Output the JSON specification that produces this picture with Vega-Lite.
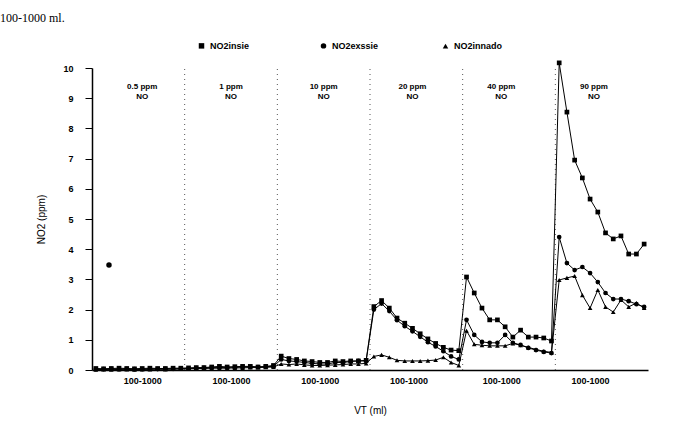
{
  "$schema": "https://vega.github.io/schema/vega-lite/v6.json",
  "width": 556,
  "height": 302,
  "autosize": "none",
  "padding": {"left": 92, "top": 68, "right": 37, "bottom": 62},
  "background": "white",
  "title": {"text": "100-1000 ml.", "anchor": "start", "frame": "group", "dx": -92, "offset": 16, "font": "Liberation Serif", "fontSize": 12, "fontWeight": "normal", "color": "black"},
  "config": {
    "view": {"stroke": null},
    "axis": {"domainColor": "black", "tickColor": "black", "labelColor": "black", "titleColor": "black", "grid": false, "labelFont": "Liberation Sans", "titleFont": "Liberation Sans", "titleFontWeight": "normal", "titleFontSize": 10}
  },
  "datasets": {
    "series": [
      {"x": 0.5, "NO2insie": 0.05, "NO2exssie": 0.03, "NO2innado": 0.01},
      {"x": 1.5, "NO2insie": 0.04, "NO2exssie": 0.03, "NO2innado": 0.02},
      {"x": 2.5, "NO2insie": 0.05, "NO2exssie": 0.04, "NO2innado": 0.01},
      {"x": 3.5, "NO2insie": 0.06, "NO2exssie": 0.03, "NO2innado": 0.02},
      {"x": 4.5, "NO2insie": 0.05, "NO2exssie": 0.04, "NO2innado": 0.02},
      {"x": 5.5, "NO2insie": 0.04, "NO2exssie": 0.03, "NO2innado": 0.01},
      {"x": 6.5, "NO2insie": 0.05, "NO2exssie": 0.03, "NO2innado": 0.02},
      {"x": 7.5, "NO2insie": 0.06, "NO2exssie": 0.04, "NO2innado": 0.02},
      {"x": 8.5, "NO2insie": 0.05, "NO2exssie": 0.03, "NO2innado": 0.03},
      {"x": 9.5, "NO2insie": 0.05, "NO2exssie": 0.04, "NO2innado": 0.02},
      {"x": 10.5, "NO2insie": 0.06, "NO2exssie": 0.04, "NO2innado": 0.03},
      {"x": 11.5, "NO2insie": 0.06, "NO2exssie": 0.05, "NO2innado": 0.03},
      {"x": 12.5, "NO2insie": 0.07, "NO2exssie": 0.05, "NO2innado": 0.04},
      {"x": 13.5, "NO2insie": 0.08, "NO2exssie": 0.06, "NO2innado": 0.05},
      {"x": 14.5, "NO2insie": 0.08, "NO2exssie": 0.07, "NO2innado": 0.05},
      {"x": 15.5, "NO2insie": 0.1, "NO2exssie": 0.08, "NO2innado": 0.06},
      {"x": 16.5, "NO2insie": 0.12, "NO2exssie": 0.08, "NO2innado": 0.06},
      {"x": 17.5, "NO2insie": 0.1, "NO2exssie": 0.09, "NO2innado": 0.06},
      {"x": 18.5, "NO2insie": 0.11, "NO2exssie": 0.09, "NO2innado": 0.07},
      {"x": 19.5, "NO2insie": 0.12, "NO2exssie": 0.1, "NO2innado": 0.07},
      {"x": 20.5, "NO2insie": 0.12, "NO2exssie": 0.1, "NO2innado": 0.08},
      {"x": 21.5, "NO2insie": 0.1, "NO2exssie": 0.1, "NO2innado": 0.08},
      {"x": 22.5, "NO2insie": 0.12, "NO2exssie": 0.11, "NO2innado": 0.09},
      {"x": 23.5, "NO2insie": 0.15, "NO2exssie": 0.12, "NO2innado": 0.1},
      {"x": 24.5, "NO2insie": 0.46, "NO2exssie": 0.35, "NO2innado": 0.2},
      {"x": 25.5, "NO2insie": 0.38, "NO2exssie": 0.3, "NO2innado": 0.18},
      {"x": 26.5, "NO2insie": 0.35, "NO2exssie": 0.28, "NO2innado": 0.2},
      {"x": 27.5, "NO2insie": 0.3, "NO2exssie": 0.25, "NO2innado": 0.17},
      {"x": 28.5, "NO2insie": 0.28, "NO2exssie": 0.22, "NO2innado": 0.15},
      {"x": 29.5, "NO2insie": 0.25, "NO2exssie": 0.2, "NO2innado": 0.15},
      {"x": 30.5, "NO2insie": 0.25, "NO2exssie": 0.2, "NO2innado": 0.16},
      {"x": 31.5, "NO2insie": 0.3, "NO2exssie": 0.25, "NO2innado": 0.17},
      {"x": 32.5, "NO2insie": 0.28, "NO2exssie": 0.25, "NO2innado": 0.18},
      {"x": 33.5, "NO2insie": 0.3, "NO2exssie": 0.28, "NO2innado": 0.2},
      {"x": 34.5, "NO2insie": 0.3, "NO2exssie": 0.3, "NO2innado": 0.2},
      {"x": 35.5, "NO2insie": 0.32, "NO2exssie": 0.3, "NO2innado": 0.22},
      {"x": 36.5, "NO2insie": 2.1, "NO2exssie": 2.0, "NO2innado": 0.45},
      {"x": 37.5, "NO2insie": 2.3, "NO2exssie": 2.2, "NO2innado": 0.5},
      {"x": 38.5, "NO2insie": 2.05, "NO2exssie": 1.95, "NO2innado": 0.42},
      {"x": 39.5, "NO2insie": 1.72, "NO2exssie": 1.65, "NO2innado": 0.32},
      {"x": 40.5, "NO2insie": 1.55, "NO2exssie": 1.45, "NO2innado": 0.3},
      {"x": 41.5, "NO2insie": 1.38, "NO2exssie": 1.28, "NO2innado": 0.3},
      {"x": 42.5, "NO2insie": 1.2, "NO2exssie": 1.1, "NO2innado": 0.3},
      {"x": 43.5, "NO2insie": 1.03, "NO2exssie": 0.92, "NO2innado": 0.31},
      {"x": 44.5, "NO2insie": 0.88, "NO2exssie": 0.78, "NO2innado": 0.33},
      {"x": 45.5, "NO2insie": 0.75, "NO2exssie": 0.62, "NO2innado": 0.42},
      {"x": 46.5, "NO2insie": 0.66, "NO2exssie": 0.45, "NO2innado": 0.25},
      {"x": 47.5, "NO2insie": 0.64, "NO2exssie": 0.35, "NO2innado": 0.15},
      {"x": 48.5, "NO2insie": 3.08, "NO2exssie": 1.66, "NO2innado": 1.3},
      {"x": 49.5, "NO2insie": 2.55, "NO2exssie": 1.16, "NO2innado": 0.85},
      {"x": 50.5, "NO2insie": 2.05, "NO2exssie": 0.93, "NO2innado": 0.82},
      {"x": 51.5, "NO2insie": 1.66, "NO2exssie": 0.9, "NO2innado": 0.8},
      {"x": 52.5, "NO2insie": 1.66, "NO2exssie": 0.9, "NO2innado": 0.8},
      {"x": 53.5, "NO2insie": 1.43, "NO2exssie": 1.16, "NO2innado": 0.8},
      {"x": 54.5, "NO2insie": 1.09, "NO2exssie": 0.9, "NO2innado": 0.88},
      {"x": 55.5, "NO2insie": 1.32, "NO2exssie": 0.83, "NO2innado": 0.82},
      {"x": 56.5, "NO2insie": 1.09, "NO2exssie": 0.73, "NO2innado": 0.75},
      {"x": 57.5, "NO2insie": 1.09, "NO2exssie": 0.66, "NO2innado": 0.68},
      {"x": 58.5, "NO2insie": 1.06, "NO2exssie": 0.6, "NO2innado": 0.62},
      {"x": 59.5, "NO2insie": 0.96, "NO2exssie": 0.56, "NO2innado": 0.58},
      {"x": 60.5, "NO2insie": 10.17, "NO2exssie": 4.4, "NO2innado": 2.98},
      {"x": 61.5, "NO2insie": 8.54, "NO2exssie": 3.54, "NO2innado": 3.05},
      {"x": 62.5, "NO2insie": 6.95, "NO2exssie": 3.31, "NO2innado": 3.11},
      {"x": 63.5, "NO2insie": 6.36, "NO2exssie": 3.41, "NO2innado": 2.48},
      {"x": 64.5, "NO2insie": 5.66, "NO2exssie": 3.21, "NO2innado": 2.05},
      {"x": 65.5, "NO2insie": 5.23, "NO2exssie": 2.91, "NO2innado": 2.65},
      {"x": 66.5, "NO2insie": 4.54, "NO2exssie": 2.55, "NO2innado": 2.09},
      {"x": 67.5, "NO2insie": 4.34, "NO2exssie": 2.35, "NO2innado": 1.92},
      {"x": 68.5, "NO2insie": 4.44, "NO2exssie": 2.35, "NO2innado": 2.32},
      {"x": 69.5, "NO2insie": 3.84, "NO2exssie": 2.28, "NO2innado": 2.09},
      {"x": 70.5, "NO2insie": 3.84, "NO2exssie": 2.18, "NO2innado": 2.22},
      {"x": 71.5, "NO2insie": 4.17, "NO2exssie": 2.09, "NO2innado": 2.05}
    ],
    "separators": [{"x": 12}, {"x": 24}, {"x": 36}, {"x": 48}, {"x": 60}],
    "labels": [
      {"x": 6.5, "label": "0.5 ppm\nNO"},
      {"x": 18, "label": "1 ppm\nNO"},
      {"x": 30, "label": "10 ppm\nNO"},
      {"x": 41.5, "label": "20 ppm\nNO"},
      {"x": 53, "label": "40 ppm\nNO"},
      {"x": 65, "label": "90 ppm\nNO"}
    ],
    "outlier": [{"x": 2.2, "v": 3.48}]
  },
  "encoding": {
    "x": {"type": "quantitative", "scale": {"domain": [0, 72], "nice": false, "zero": false},
      "axis": {"title": "VT (ml)", "values": [6.5, 18, 29.5, 41, 53, 64.5], "labelExpr": "'100-1000'", "ticks": false, "labelFontWeight": "bold", "labelFontSize": 9, "labelPadding": 6, "titlePadding": 20, "domainWidth": 1.5}},
    "y": {"type": "quantitative", "scale": {"domain": [0, 10], "nice": false},
      "axis": {"title": "NO2 (ppm)", "values": [0, 1, 2, 3, 4, 5, 6, 7, 8, 9, 10], "tickCount": 11, "labelOverlap": false, "tickSize": 7, "labelPadding": 12, "labelFontWeight": "bold", "labelFontSize": 9, "titlePadding": 16, "domainWidth": 1.5}}
  },
  "layer": [
    {
      "data": {"name": "separators"},
      "mark": {"type": "rule", "color": "#555555", "strokeWidth": 1, "strokeDash": [1, 4]},
      "encoding": {
        "x": {"field": "x", "type": "quantitative"},
        "y": {"datum": 0, "type": "quantitative"},
        "y2": {"datum": 10}
      }
    },
    {
      "data": {"name": "labels"},
      "mark": {"type": "text", "lineBreak": "\n", "baseline": "top", "align": "center", "font": "Liberation Sans", "fontWeight": "bold", "fontSize": 8, "lineHeight": 10, "color": "black"},
      "encoding": {
        "x": {"field": "x", "type": "quantitative"},
        "y": {"datum": 9.5, "type": "quantitative"},
        "text": {"field": "label"}
      }
    },
    {
      "data": {"name": "series"},
      "transform": [{"fold": ["NO2insie", "NO2exssie", "NO2innado"], "as": ["series", "no2"]}],
      "mark": {"type": "line", "color": "black", "strokeWidth": 1},
      "encoding": {
        "x": {"field": "x", "type": "quantitative"},
        "y": {"field": "no2", "type": "quantitative"},
        "detail": {"field": "series"}
      }
    },
    {
      "data": {"name": "series"},
      "transform": [{"fold": ["NO2insie", "NO2exssie", "NO2innado"], "as": ["series", "no2"]}],
      "mark": {"type": "point", "filled": true, "color": "black", "size": 22, "opacity": 1},
      "encoding": {
        "x": {"field": "x", "type": "quantitative"},
        "y": {"field": "no2", "type": "quantitative"},
        "shape": {"field": "series", "type": "nominal",
          "scale": {"domain": ["NO2insie", "NO2exssie", "NO2innado"], "range": ["square", "circle", "triangle-up"]},
          "legend": {"title": null, "orient": "none", "legendX": 105, "legendY": -27, "direction": "horizontal", "gridAlign": "all", "labelFont": "Liberation Sans", "labelFontWeight": "bold", "labelFontSize": 9, "labelColor": "black", "symbolSize": 30, "symbolFillColor": "black", "symbolStrokeColor": "black", "columnPadding": 58}}
      }
    },
    {
      "data": {"name": "outlier"},
      "mark": {"type": "point", "filled": true, "color": "black", "size": 30, "shape": "circle", "opacity": 1},
      "encoding": {
        "x": {"field": "x", "type": "quantitative"},
        "y": {"field": "v", "type": "quantitative"}
      }
    }
  ]
}
